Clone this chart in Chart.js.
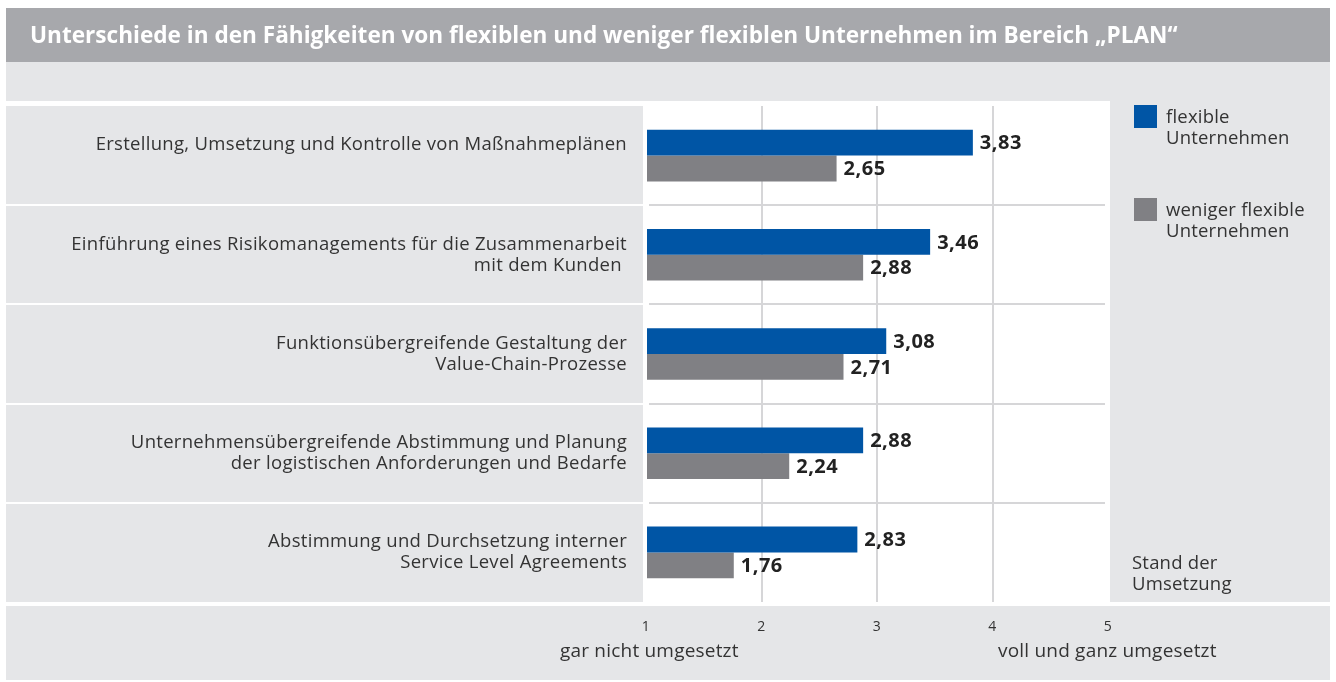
<!DOCTYPE html>
<html lang="de">
<head>
<meta charset="utf-8">
<script src="https://cdn.jsdelivr.net/npm/chart.js@4/dist/chart.umd.min.js"></script>
<style>
  html, body { margin: 0; padding: 0; background: #ffffff; }
  #wrap { position: relative; width: 1336px; height: 682px; }
  canvas { display: block; }
</style>
</head>
<body>
<div id="wrap"><canvas id="chart" width="1336" height="682"></canvas></div>
<script>
// Fähigkeiten im Bereich „PLAN“
const categories = [
  ["Erstellung, Umsetzung und Kontrolle von Maßnahmeplänen", ""],
  ["Einführung eines Risikomanagements für die Zusammenarbeit", "mit dem Kunden "],
  ["Funktionsübergreifende Gestaltung der", "Value-Chain-Prozesse"],
  ["Unternehmensübergreifende Abstimmung und Planung", "der logistischen Anforderungen und Bedarfe"],
  ["Abstimmung und Durchsetzung interner", "Service Level Agreements"]
];
const flexibleValues = [3.83, 3.46, 3.08, 2.88, 2.83];
const lessFlexibleValues = [2.65, 2.88, 2.71, 2.24, 1.76];
const seriesNames = [["flexible", "Unternehmen"], ["weniger flexible", "Unternehmen"]];
const tickLabels = ["1", "2", "3", "4", "5"];
const scaleEnds = ["gar nicht umgesetzt", "voll und ganz umgesetzt"];
const titleText = "Unterschiede in den Fähigkeiten von flexiblen und weniger flexiblen Unternehmen im Bereich „PLAN“";
const axisNote = ["Stand der", "Umsetzung"];

const FONT = "'Open Sans', 'Noto Sans', sans-serif";
const BLUE = "#0055a5";
const GREY = "#808084";
const PANEL = "#e5e6e8";
const HEAD = "#a7a8ac";
const TEXT = "#333333";

const frame = {
  id: "frame",
  beforeDraw(chart) {
    const { ctx, chartArea: a, scales: { y } } = chart;
    ctx.save();
    ctx.letterSpacing = "0px";
    // header band
    ctx.fillStyle = HEAD;
    ctx.fillRect(6, 8, 1324, 54);
    ctx.fillStyle = PANEL;
    ctx.fillRect(6, 62, 1324, 39);
    // left label panel, right legend panel, bottom scale panel
    ctx.fillRect(6, a.top, a.left - 3 - 6, a.bottom - a.top);
    ctx.fillRect(a.right + 2, 101, 1330 - a.right - 2, a.bottom - 101);
    ctx.fillRect(6, a.bottom + 4, 1324, 682 - a.bottom - 6);
    // plot background
    ctx.fillStyle = "#ffffff";
    ctx.fillRect(a.left - 3, 101, a.right + 2 - (a.left - 3), a.bottom - 101);
    // row separators
    for (let i = 0; i < categories.length - 1; i++) {
      const yb = Math.round((y.getPixelForValue(i) + y.getPixelForValue(i + 1)) / 2);
      ctx.fillStyle = "#ffffff";
      ctx.fillRect(6, yb - 1, a.left - 9, 2);
      ctx.fillStyle = "#d6d6d8";
      ctx.fillRect(a.left + 3, yb - 1, a.right - a.left - 6, 2);
    }
    // title
    ctx.fillStyle = "#ffffff";
    ctx.font = "bold 22.6px " + FONT;
    ctx.textAlign = "left";
    ctx.textBaseline = "middle";
    ctx.fillText(titleText, 30, 37);
    ctx.restore();
    // slightly open tracking for the axis labels
    ctx.letterSpacing = "0.3px";
  },
  afterDatasetsDraw(chart) {
    const { ctx } = chart;
    ctx.save();
    ctx.letterSpacing = "0.5px";
    ctx.font = "bold 20px " + FONT;
    ctx.fillStyle = "#222222";
    ctx.textAlign = "left";
    ctx.textBaseline = "middle";
    chart.data.datasets.forEach((ds, di) => {
      chart.getDatasetMeta(di).data.forEach((bar, i) => {
        ctx.fillText(ds.data[i].toFixed(2).replace(".", ","), bar.x + 7, bar.y + 1);
      });
    });
    ctx.restore();
  },
  afterDraw(chart) {
    const { ctx } = chart;
    ctx.save();
    ctx.letterSpacing = "0.2px";
    ctx.fillStyle = TEXT;
    ctx.font = "18.5px " + FONT;
    ctx.textBaseline = "middle";
    ctx.textAlign = "left";
    // legend
    const colors = [BLUE, GREY];
    const tops = [105, 198];
    seriesNames.forEach((lines, k) => {
      ctx.fillStyle = colors[k];
      ctx.fillRect(1134, tops[k], 23, 23);
      ctx.fillStyle = TEXT;
      lines.forEach((t, j) => ctx.fillText(t, 1166, tops[k] + 13 + j * 21));
    });
    axisNote.forEach((t, j) => ctx.fillText(t, 1132, 564 + j * 21));
    // scale ends
    ctx.font = "19px " + FONT;
    ctx.fillText(scaleEnds[0], 560, 652);
    ctx.fillText(scaleEnds[1], 998, 652);
    ctx.restore();
    ctx.letterSpacing = "0px";
  }
};

new Chart(document.getElementById("chart"), {
  type: "bar",
  data: {
    labels: categories,
    datasets: [
      { label: seriesNames[0].join(" "), data: flexibleValues, backgroundColor: BLUE,
        categoryPercentage: 0.52, barPercentage: 1.0, base: 1 },
      { label: seriesNames[1].join(" "), data: lessFlexibleValues, backgroundColor: GREY,
        categoryPercentage: 0.52, barPercentage: 1.0, base: 1 }
    ]
  },
  options: {
    indexAxis: "y",
    responsive: false,
    animation: false,
    events: [],
    layout: { padding: { left: 0, right: 228, top: 106, bottom: 0 } },
    plugins: { legend: { display: false }, tooltip: { enabled: false } },
    scales: {
      x: {
        min: 1, max: 5,
        afterFit(s) { s.height = 80; },
        ticks: { stepSize: 1, padding: 17, color: TEXT, font: { family: FONT, size: 14 },
          callback: (v) => tickLabels[v - 1] },
        grid: { drawTicks: false,
          color: (c) => (c.tick && c.tick.value > 1 && c.tick.value < 5) ? "#d6d6d8" : "rgba(0,0,0,0)",
          lineWidth: 2 },
        border: { display: false }
      },
      y: {
        afterFit(s) { s.width = 646; },
        ticks: { padding: 19, color: TEXT, font: { family: FONT, size: 18.5, lineHeight: 1.13 } },
        grid: { display: false, drawTicks: false },
        border: { display: false }
      }
    }
  },
  plugins: [frame]
});
</script>
</body>
</html>
